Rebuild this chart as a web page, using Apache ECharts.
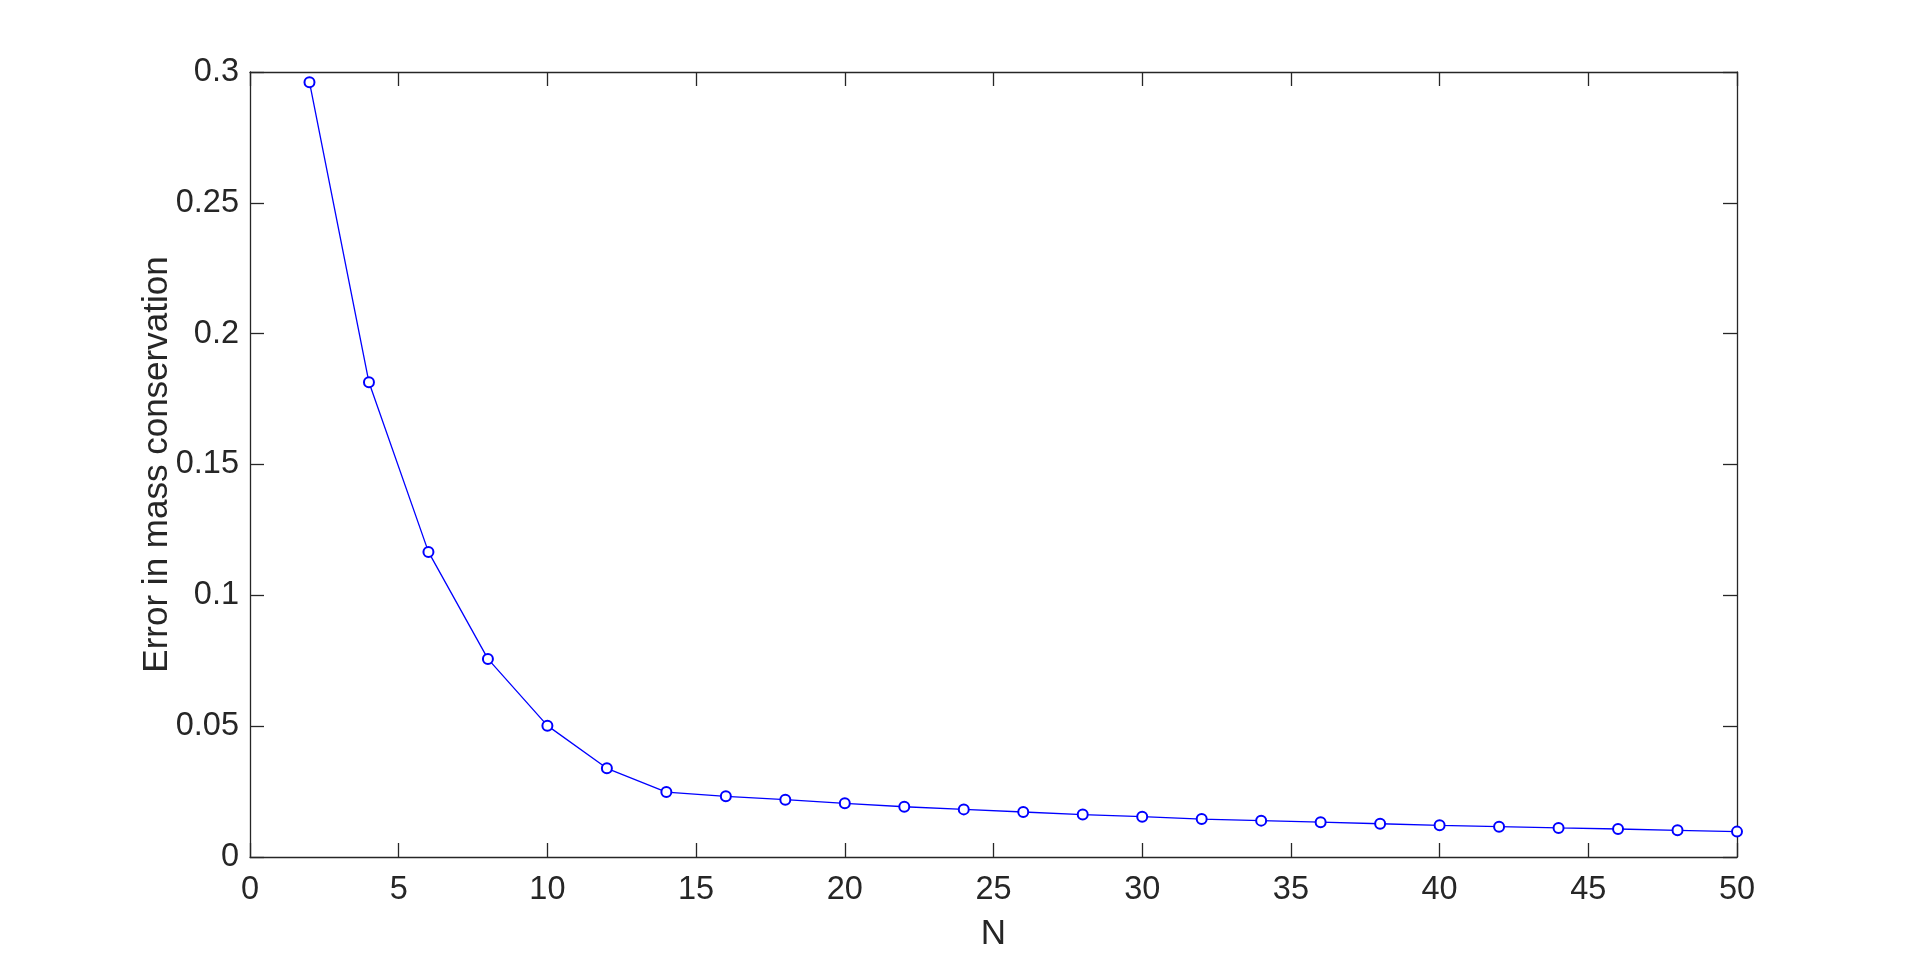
<!DOCTYPE html>
<html>
<head>
<meta charset="utf-8">
<script src="https://cdn.jsdelivr.net/npm/echarts@6/dist/echarts.min.js"></script>
<style>
html,body{margin:0;padding:0;background:#fff;}
#chart{width:1920px;height:964px;}
</style>
</head>
<body>
<div id="chart"></div>
<script>
const nValues = [2,4,6,8,10,12,14,16,18,20,22,24,26,28,30,32,34,36,38,40,42,44,46,48,50];
const errorValues = [0.2961,0.1814,0.1166,0.0757,0.0502,0.0339,0.0248,0.0232,0.0219,0.0205,0.0192,0.0182,0.0172,0.0162,0.0154,0.0145,0.0139,0.0133,0.0127,0.0121,0.0116,0.0111,0.0107,0.0102,0.0097];
const xLabel = 'N';
const yLabel = 'Error in mass conservation';

const axisColor = '#262626';
const font = 'Liberation Sans, Arial, Helvetica, sans-serif';

const chart = echarts.init(document.getElementById('chart'), null, {renderer:'canvas'});
const baseAxisLine = {show:true, onZero:false, lineStyle:{color:axisColor, width:1.3}};
const tick = {show:true, inside:true, length:14, lineStyle:{color:axisColor, width:1.3}};

chart.setOption({
  animation:false,
  backgroundColor:'#ffffff',
  grid:{left:250, top:72, width:1487, height:785, containLabel:false},
  xAxis:[{
    type:'value', min:0, max:50, interval:5, position:'bottom',
    name:xLabel, nameLocation:'middle', nameGap:60, nameMoveOverlap:false,
    nameTextStyle:{fontFamily:font, fontSize:35, color:axisColor},
    axisLine:baseAxisLine, axisTick:tick, splitLine:{show:false},
    axisLabel:{fontFamily:font, fontSize:32.5, color:axisColor, margin:17}
  },{
    type:'value', min:0, max:50, interval:5, position:'top',
    axisLine:baseAxisLine, axisTick:tick, splitLine:{show:false},
    axisLabel:{show:false}
  }],
  yAxis:[{
    type:'value', min:0, max:0.3, interval:0.05, position:'left',
    name:yLabel, nameLocation:'middle', nameGap:75, nameMoveOverlap:false,
    nameTextStyle:{fontFamily:font, fontSize:35, color:axisColor},
    axisLine:baseAxisLine, axisTick:tick, splitLine:{show:false},
    axisLabel:{fontFamily:font, fontSize:32.5, color:axisColor, margin:11}
  },{
    type:'value', min:0, max:0.3, interval:0.05, position:'right',
    axisLine:baseAxisLine, axisTick:tick, splitLine:{show:false},
    axisLabel:{show:false}
  }],
  series:[{
    type:'line',
    data:nValues.map((n,i)=>[n, errorValues[i]]),
    symbol:'emptyCircle', symbolSize:10,
    lineStyle:{color:'#0000ff', width:1.3},
    itemStyle:{color:'#0000ff', borderColor:'#0000ff', borderWidth:1.3},
    clip:false
  }]
});
</script>
</body>
</html>
